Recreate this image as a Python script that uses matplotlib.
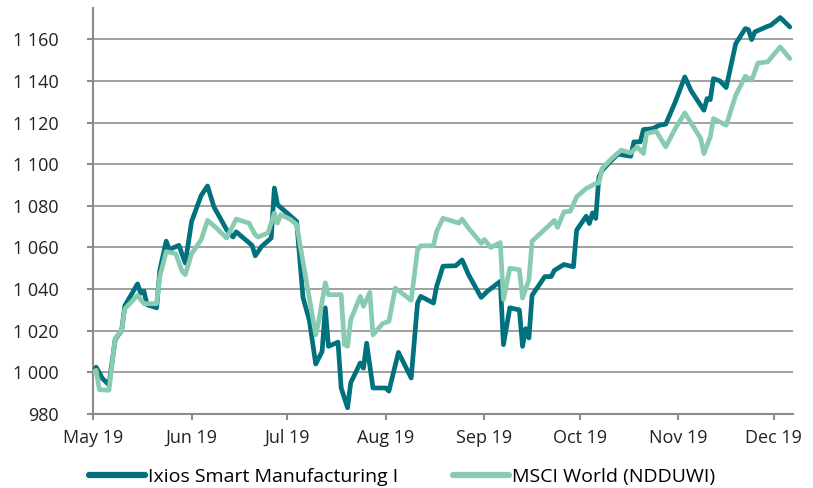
import matplotlib
matplotlib.use("Agg")
import matplotlib.pyplot as plt
import matplotlib.dates as mdates
import matplotlib.ticker as mticker
import pandas as pd

plt.rcParams['font.family'] = ['Open Sans', 'DejaVu Sans']

# Ixios Smart Manufacturing I (rebased to 1000)
ixios_dates = [
    "2019-05-01", "2019-05-02", "2019-05-04", "2019-05-06", "2019-05-08", "2019-05-10",
    "2019-05-11", "2019-05-15", "2019-05-16", "2019-05-17", "2019-05-18", "2019-05-21",
    "2019-05-22", "2019-05-24", "2019-05-25", "2019-05-28", "2019-05-30", "2019-06-01",
    "2019-06-04", "2019-06-06", "2019-06-08", "2019-06-12", "2019-06-14", "2019-06-15",
    "2019-06-20", "2019-06-21", "2019-06-23", "2019-06-26", "2019-06-27", "2019-06-28",
    "2019-07-01", "2019-07-04", "2019-07-06", "2019-07-08", "2019-07-10", "2019-07-12",
    "2019-07-13", "2019-07-14", "2019-07-17", "2019-07-18", "2019-07-20", "2019-07-21",
    "2019-07-24", "2019-07-25", "2019-07-26", "2019-07-28", "2019-08-01", "2019-08-02",
    "2019-08-05", "2019-08-09", "2019-08-11", "2019-08-12", "2019-08-16", "2019-08-17",
    "2019-08-19", "2019-08-23", "2019-08-25", "2019-08-27", "2019-08-31", "2019-09-02",
    "2019-09-06", "2019-09-07", "2019-09-09", "2019-09-12", "2019-09-13", "2019-09-14",
    "2019-09-15", "2019-09-16", "2019-09-20", "2019-09-22", "2019-09-23", "2019-09-26",
    "2019-09-29", "2019-09-30", "2019-10-03", "2019-10-04", "2019-10-05", "2019-10-06",
    "2019-10-07", "2019-10-08", "2019-10-11", "2019-10-13", "2019-10-17", "2019-10-18",
    "2019-10-20", "2019-10-21", "2019-10-24", "2019-10-26", "2019-10-28", "2019-10-31",
    "2019-11-03", "2019-11-05", "2019-11-09", "2019-11-10", "2019-11-11", "2019-11-12",
    "2019-11-14", "2019-11-16", "2019-11-19", "2019-11-22", "2019-11-23", "2019-11-24",
    "2019-11-25", "2019-11-29", "2019-11-30", "2019-12-03", "2019-12-06",
]
ixios_values = [
    1000, 1002.5, 997, 994, 1016, 1020,
    1032, 1042.5, 1038, 1039, 1032.5, 1031,
    1049, 1063, 1059, 1061, 1052.5, 1072.5,
    1085, 1089.5, 1079.5, 1068.5, 1065, 1067.5,
    1061, 1056, 1060.5, 1064.5, 1088.5, 1080.5,
    1076.5, 1072.5, 1036, 1025, 1004, 1010,
    1031, 1012.5, 1014.5, 992.5, 983, 995,
    1004.5, 1002, 1014, 992.5, 992.5, 991,
    1009.6, 997.3, 1033.3, 1036.5, 1033.3, 1041.3,
    1051, 1051.2, 1054, 1047, 1036, 1039,
    1043.7, 1013.3, 1031, 1030, 1012.5, 1021,
    1016.5, 1037, 1046, 1046, 1049, 1051.8,
    1050.7, 1068.3, 1075, 1071.5, 1076.6, 1073.9,
    1093.9, 1097, 1101.9, 1104.8, 1103.8, 1110.7,
    1110.7, 1116.6, 1117.1, 1118.7, 1119.2, 1129.9,
    1141.9, 1135.2, 1125.9, 1131.5, 1131, 1141.1,
    1140, 1136.8, 1157.9, 1165.1, 1164.6, 1159.8,
    1163.5, 1166.2, 1166.7, 1170.4, 1165.9,
]

# MSCI World (NDDUWI) (rebased to 1000)
msci_dates = [
    "2019-05-01", "2019-05-02", "2019-05-03", "2019-05-06", "2019-05-08", "2019-05-10",
    "2019-05-11", "2019-05-15", "2019-05-16", "2019-05-17", "2019-05-21", "2019-05-22",
    "2019-05-24", "2019-05-27", "2019-05-29", "2019-05-30", "2019-06-01", "2019-06-04",
    "2019-06-06", "2019-06-09", "2019-06-12", "2019-06-15", "2019-06-19", "2019-06-21",
    "2019-06-22", "2019-06-25", "2019-06-27", "2019-06-28", "2019-06-29", "2019-07-02",
    "2019-07-04", "2019-07-06", "2019-07-10", "2019-07-11", "2019-07-13", "2019-07-14",
    "2019-07-18", "2019-07-19", "2019-07-20", "2019-07-21", "2019-07-24", "2019-07-25",
    "2019-07-27", "2019-07-28", "2019-07-31", "2019-08-02", "2019-08-04", "2019-08-09",
    "2019-08-11", "2019-08-12", "2019-08-16", "2019-08-17", "2019-08-19", "2019-08-24",
    "2019-08-25", "2019-08-27", "2019-08-31", "2019-09-01", "2019-09-03", "2019-09-06",
    "2019-09-07", "2019-09-09", "2019-09-12", "2019-09-13", "2019-09-15", "2019-09-16",
    "2019-09-21", "2019-09-23", "2019-09-24", "2019-09-26", "2019-09-28", "2019-09-30",
    "2019-10-03", "2019-10-06", "2019-10-07", "2019-10-08", "2019-10-11", "2019-10-14",
    "2019-10-17", "2019-10-19", "2019-10-21", "2019-10-22", "2019-10-25", "2019-10-28",
    "2019-10-31", "2019-11-03", "2019-11-08", "2019-11-09", "2019-11-11", "2019-11-12",
    "2019-11-16", "2019-11-19", "2019-11-22", "2019-11-24", "2019-11-26", "2019-11-29",
    "2019-12-03", "2019-12-06",
]
msci_values = [
    1000, 1001, 991.7, 991.4, 1016.5, 1020,
    1030.5, 1037, 1035, 1033, 1033, 1046,
    1058, 1057, 1048.5, 1047, 1057, 1063.7,
    1073, 1069, 1064.5, 1073.6, 1071.7, 1066,
    1065, 1067, 1076.5, 1071.7, 1075.7, 1073.5,
    1071, 1053, 1018, 1025, 1043, 1037.3,
    1037.3, 1013.3, 1012.5, 1025.3, 1036.5, 1031.7,
    1038.4, 1018, 1023.4, 1024.5, 1040.5, 1034.6,
    1058.9, 1060.8, 1060.8, 1067.7, 1074, 1071.7,
    1073.6, 1069.3, 1062, 1063.8, 1060, 1062.3,
    1035, 1050, 1049.3, 1035.7, 1044.5, 1063,
    1070.1, 1073, 1069.6, 1077.1, 1077.4, 1084.3,
    1088.3, 1090.7, 1091, 1097.9, 1102.7, 1106.7,
    1105.4, 1108.3, 1105.1, 1114.7, 1115.8, 1108.3,
    1117.1, 1124.6, 1112.3, 1105.1, 1113.1, 1121.9,
    1118.7, 1133.1, 1142.2, 1140.3, 1148.6, 1149.1,
    1156.3, 1150.7,
]

y_ticks = [980, 1000, 1020, 1040, 1060, 1080, 1100, 1120, 1140, 1160]

dark = "#00717d"
light = "#88cbb0"
grey = "#8c8c8c"

fig = plt.figure(figsize=(8.13, 4.88), dpi=100)
ax = fig.add_axes([93 / 813, 1 - 414 / 488, (793 - 93) / 813, (414 - 8) / 488])

ax.plot(pd.to_datetime(ixios_dates), ixios_values, color=dark, lw=3.4,
        solid_joinstyle="round", solid_capstyle="round", label="Ixios Smart Manufacturing I", zorder=3)
ax.plot(pd.to_datetime(msci_dates), msci_values, color=light, lw=3.4,
        solid_joinstyle="round", solid_capstyle="round", label="MSCI World (NDDUWI)", zorder=4)

ax.set_xlim(pd.Timestamp("2019-05-01"), pd.Timestamp("2019-12-07"))
ax.set_ylim(980, 1175)
ax.set_yticks(y_ticks)
ax.yaxis.set_major_formatter(mticker.FuncFormatter(lambda v, p: f"{int(v):,}".replace(",", " ")))
ax.xaxis.set_major_locator(mdates.MonthLocator())
ax.xaxis.set_major_formatter(mdates.DateFormatter("%b %y"))

ax.grid(axis="y", color="#a0a0a0", lw=1.4, zorder=1)
ax.set_axisbelow(True)
for side in ["top", "right"]:
    ax.spines[side].set_visible(False)
for side in ["left", "bottom"]:
    ax.spines[side].set_color(grey)
    ax.spines[side].set_linewidth(1.5)

ax.tick_params(axis="x", length=4, width=1.5, color=grey, pad=7, labelsize=13, labelcolor="#222222")
ax.tick_params(axis="y", length=4.5, width=1.5, color=grey, labelsize=13, labelcolor="#222222")
ax.yaxis.set_tick_params(which="major", pad=20)

leg = fig.legend(loc="center left", bbox_to_anchor=(89 / 813, 1 - 477 / 488), ncol=2, frameon=False,
                 fontsize=14, handlelength=2.9, handletextpad=0.15, columnspacing=2.8,
                 borderaxespad=0, borderpad=0)
for line in leg.get_lines():
    line.set_linewidth(4.5)

fig.savefig("out.png", dpi=100)
